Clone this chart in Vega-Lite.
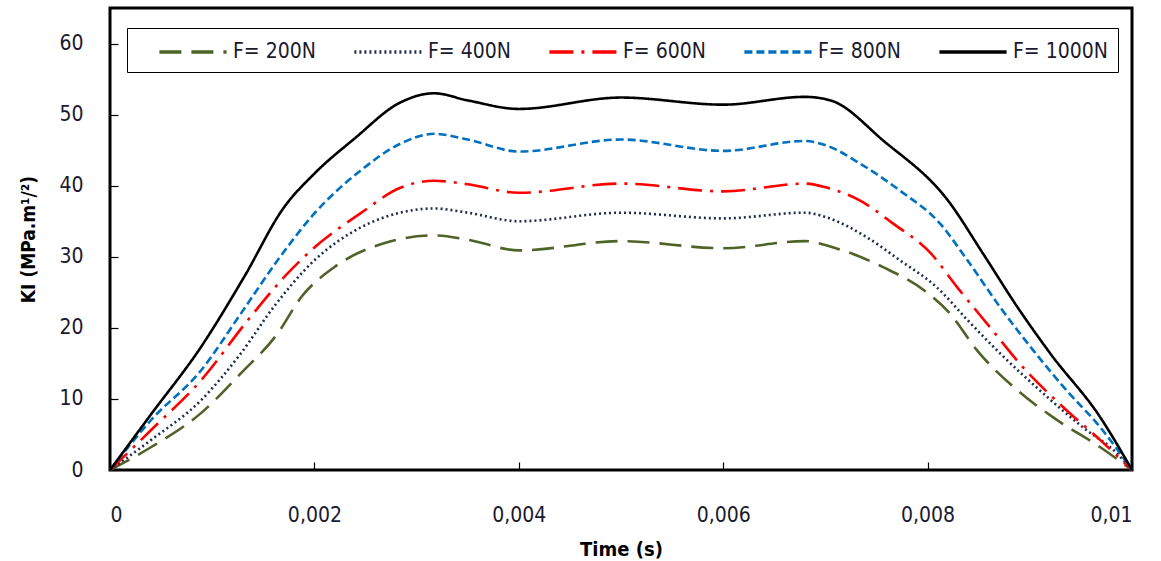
{
  "$schema": "https://vega.github.io/schema/vega-lite/v6.json",
  "width": 1022,
  "height": 462,
  "autosize": {"type": "none"},
  "padding": {"left": 110, "top": 8, "right": 29, "bottom": 91},
  "background": "white",
  "config": {
    "view": {"stroke": "black", "strokeWidth": 3},
    "font": "DejaVu Sans Condensed, Liberation Sans, sans-serif",
    "axis": {"grid": false, "domain": false, "labelFont": "DejaVu Sans Condensed, Liberation Sans, sans-serif", "titleFont": "DejaVu Sans Condensed, Liberation Sans, sans-serif", "labelColor": "#1a1a2e", "titleColor": "black", "tickColor": "black", "tickWidth": 1.2}
  },
  "data": {
    "values": [
      {"t": 0, "v": 0, "F": "F= 200N"},
      {"t": 0.0004, "v": 3.2, "F": "F= 200N"},
      {"t": 0.00089, "v": 8.0, "F": "F= 200N"},
      {"t": 0.00128, "v": 13.6, "F": "F= 200N"},
      {"t": 0.00164, "v": 19.2, "F": "F= 200N"},
      {"t": 0.00187, "v": 24.3, "F": "F= 200N"},
      {"t": 0.00219, "v": 28.5, "F": "F= 200N"},
      {"t": 0.00268, "v": 31.9, "F": "F= 200N"},
      {"t": 0.00317, "v": 33.0, "F": "F= 200N"},
      {"t": 0.0035, "v": 32.4, "F": "F= 200N"},
      {"t": 0.004, "v": 30.9, "F": "F= 200N"},
      {"t": 0.005, "v": 32.2, "F": "F= 200N"},
      {"t": 0.006, "v": 31.2, "F": "F= 200N"},
      {"t": 0.0068, "v": 32.2, "F": "F= 200N"},
      {"t": 0.00708, "v": 31.3, "F": "F= 200N"},
      {"t": 0.00757, "v": 28.5, "F": "F= 200N"},
      {"t": 0.008, "v": 24.9, "F": "F= 200N"},
      {"t": 0.00822, "v": 22.0, "F": "F= 200N"},
      {"t": 0.00848, "v": 16.9, "F": "F= 200N"},
      {"t": 0.00888, "v": 11.2, "F": "F= 200N"},
      {"t": 0.00927, "v": 7.0, "F": "F= 200N"},
      {"t": 0.00969, "v": 3.2, "F": "F= 200N"},
      {"t": 0.01, "v": 0, "F": "F= 200N"},

      {"t": 0, "v": 0, "F": "F= 400N"},
      {"t": 0.0004, "v": 4.2, "F": "F= 400N"},
      {"t": 0.00089, "v": 9.8, "F": "F= 400N"},
      {"t": 0.00128, "v": 16.4, "F": "F= 400N"},
      {"t": 0.0016, "v": 22.9, "F": "F= 400N"},
      {"t": 0.002, "v": 29.5, "F": "F= 400N"},
      {"t": 0.00245, "v": 34.1, "F": "F= 400N"},
      {"t": 0.00284, "v": 36.2, "F": "F= 400N"},
      {"t": 0.00317, "v": 36.8, "F": "F= 400N"},
      {"t": 0.0035, "v": 36.2, "F": "F= 400N"},
      {"t": 0.004, "v": 35.0, "F": "F= 400N"},
      {"t": 0.005, "v": 36.2, "F": "F= 400N"},
      {"t": 0.006, "v": 35.4, "F": "F= 400N"},
      {"t": 0.0068, "v": 36.2, "F": "F= 400N"},
      {"t": 0.00702, "v": 35.5, "F": "F= 400N"},
      {"t": 0.00741, "v": 32.7, "F": "F= 400N"},
      {"t": 0.00773, "v": 29.5, "F": "F= 400N"},
      {"t": 0.00809, "v": 25.7, "F": "F= 400N"},
      {"t": 0.00839, "v": 21.1, "F": "F= 400N"},
      {"t": 0.00871, "v": 16.4, "F": "F= 400N"},
      {"t": 0.00913, "v": 10.8, "F": "F= 400N"},
      {"t": 0.00952, "v": 6.0, "F": "F= 400N"},
      {"t": 0.00985, "v": 2.4, "F": "F= 400N"},
      {"t": 0.01, "v": 0, "F": "F= 400N"},

      {"t": 0, "v": 0, "F": "F= 600N"},
      {"t": 0.0004, "v": 5.6, "F": "F= 600N"},
      {"t": 0.00089, "v": 12.6, "F": "F= 600N"},
      {"t": 0.00135, "v": 21.1, "F": "F= 600N"},
      {"t": 0.00174, "v": 27.7, "F": "F= 600N"},
      {"t": 0.002, "v": 31.3, "F": "F= 600N"},
      {"t": 0.00245, "v": 36.1, "F": "F= 600N"},
      {"t": 0.00284, "v": 39.7, "F": "F= 600N"},
      {"t": 0.00317, "v": 40.7, "F": "F= 600N"},
      {"t": 0.0035, "v": 40.2, "F": "F= 600N"},
      {"t": 0.004, "v": 39.0, "F": "F= 600N"},
      {"t": 0.005, "v": 40.3, "F": "F= 600N"},
      {"t": 0.006, "v": 39.2, "F": "F= 600N"},
      {"t": 0.0068, "v": 40.3, "F": "F= 600N"},
      {"t": 0.00702, "v": 39.7, "F": "F= 600N"},
      {"t": 0.00734, "v": 37.9, "F": "F= 600N"},
      {"t": 0.00766, "v": 34.7, "F": "F= 600N"},
      {"t": 0.00803, "v": 30.5, "F": "F= 600N"},
      {"t": 0.00829, "v": 25.7, "F": "F= 600N"},
      {"t": 0.00861, "v": 20.1, "F": "F= 600N"},
      {"t": 0.00893, "v": 14.5, "F": "F= 600N"},
      {"t": 0.00933, "v": 8.8, "F": "F= 600N"},
      {"t": 0.00969, "v": 4.2, "F": "F= 600N"},
      {"t": 0.01, "v": 0, "F": "F= 600N"},

      {"t": 0, "v": 0, "F": "F= 800N"},
      {"t": 0.0004, "v": 7.0, "F": "F= 800N"},
      {"t": 0.00089, "v": 14.0, "F": "F= 800N"},
      {"t": 0.00128, "v": 22.0, "F": "F= 800N"},
      {"t": 0.00164, "v": 29.5, "F": "F= 800N"},
      {"t": 0.002, "v": 36.1, "F": "F= 800N"},
      {"t": 0.00245, "v": 42.1, "F": "F= 800N"},
      {"t": 0.00284, "v": 45.9, "F": "F= 800N"},
      {"t": 0.00317, "v": 47.3, "F": "F= 800N"},
      {"t": 0.0035, "v": 46.5, "F": "F= 800N"},
      {"t": 0.004, "v": 44.8, "F": "F= 800N"},
      {"t": 0.005, "v": 46.5, "F": "F= 800N"},
      {"t": 0.006, "v": 44.9, "F": "F= 800N"},
      {"t": 0.0068, "v": 46.3, "F": "F= 800N"},
      {"t": 0.00702, "v": 45.6, "F": "F= 800N"},
      {"t": 0.00734, "v": 43.1, "F": "F= 800N"},
      {"t": 0.00773, "v": 39.3, "F": "F= 800N"},
      {"t": 0.00812, "v": 34.7, "F": "F= 800N"},
      {"t": 0.00839, "v": 29.5, "F": "F= 800N"},
      {"t": 0.00871, "v": 22.9, "F": "F= 800N"},
      {"t": 0.00903, "v": 16.9, "F": "F= 800N"},
      {"t": 0.00936, "v": 11.2, "F": "F= 800N"},
      {"t": 0.00969, "v": 6.0, "F": "F= 800N"},
      {"t": 0.01, "v": 0, "F": "F= 800N"},

      {"t": 0, "v": 0, "F": "F= 1000N"},
      {"t": 0.0004, "v": 7.8, "F": "F= 1000N"},
      {"t": 0.00089, "v": 17.3, "F": "F= 1000N"},
      {"t": 0.00131, "v": 27.1, "F": "F= 1000N"},
      {"t": 0.0017, "v": 36.9, "F": "F= 1000N"},
      {"t": 0.002, "v": 41.7, "F": "F= 1000N"},
      {"t": 0.00239, "v": 46.6, "F": "F= 1000N"},
      {"t": 0.00284, "v": 51.7, "F": "F= 1000N"},
      {"t": 0.00317, "v": 53.0, "F": "F= 1000N"},
      {"t": 0.0035, "v": 52.0, "F": "F= 1000N"},
      {"t": 0.004, "v": 50.8, "F": "F= 1000N"},
      {"t": 0.005, "v": 52.4, "F": "F= 1000N"},
      {"t": 0.006, "v": 51.4, "F": "F= 1000N"},
      {"t": 0.0068, "v": 52.5, "F": "F= 1000N"},
      {"t": 0.00705, "v": 52.0, "F": "F= 1000N"},
      {"t": 0.00757, "v": 46.3, "F": "F= 1000N"},
      {"t": 0.0082, "v": 37.9, "F": "F= 1000N"},
      {"t": 0.00854, "v": 30.5, "F": "F= 1000N"},
      {"t": 0.00888, "v": 22.9, "F": "F= 1000N"},
      {"t": 0.0092, "v": 16.4, "F": "F= 1000N"},
      {"t": 0.00969, "v": 7.4, "F": "F= 1000N"},
      {"t": 0.01, "v": 0, "F": "F= 1000N"}
    ]
  },
  "mark": {"type": "line", "interpolate": "monotone", "strokeWidth": 2.6},
  "encoding": {
    "x": {
      "field": "t", "type": "quantitative",
      "scale": {"domain": [0, 0.01], "nice": false},
      "axis": {
        "values": [0, 0.002, 0.004, 0.006, 0.008, 0.01],
        "labelExpr": "replace(toString(datum.value), '.', ',')",
        "labelFontSize": 21, "tickSize": -8, "labelPadding": 42,
        "title": "Time (s)", "titleFontSize": 20, "titleFontWeight": "bold", "titlePadding": 14
      }
    },
    "y": {
      "field": "v", "type": "quantitative",
      "scale": {"domain": [0, 65], "nice": false},
      "axis": {
        "values": [0, 10, 20, 30, 40, 50, 60],
        "labelFontSize": 21, "tickSize": -8, "labelPadding": 35,
        "title": "KI (MPa.m¹/²)", "titleFontSize": 19, "titleFontWeight": "bold", "titlePadding": 20
      }
    },
    "color": {
      "field": "F", "type": "nominal",
      "sort": ["F= 200N", "F= 400N", "F= 600N", "F= 800N", "F= 1000N"],
      "scale": {
        "domain": ["F= 200N", "F= 400N", "F= 600N", "F= 800N", "F= 1000N"],
        "range": ["#4F6228", "#1F2D4E", "#FF0000", "#0070C0", "#000000"]
      },
      "legend": {
        "title": null, "orient": "none", "legendX": 17, "legendY": 20,
        "direction": "horizontal", "strokeColor": "black", "fillColor": "white",
        "padding": 10, "symbolOffset": 42, "symbolType": "M-2.8,0L2.8,0", "symbolSize": 576, "symbolStrokeWidth": 3.5,
        "symbolFillColor": "transparent",
        "labelFontSize": 21, "labelFont": "DejaVu Sans Condensed, Liberation Sans, sans-serif", "labelColor": "#1a1a2e",
        "columnPadding": 16, "labelOffset": 26
      }
    },
    "strokeDash": {
      "field": "F", "type": "nominal",
      "sort": ["F= 200N", "F= 400N", "F= 600N", "F= 800N", "F= 1000N"],
      "scale": {
        "domain": ["F= 200N", "F= 400N", "F= 600N", "F= 800N", "F= 1000N"],
        "range": [[22, 10], [2, 3], [24, 8, 3, 8], [8, 4], [1, 0]]
      }
    }
  }
}
